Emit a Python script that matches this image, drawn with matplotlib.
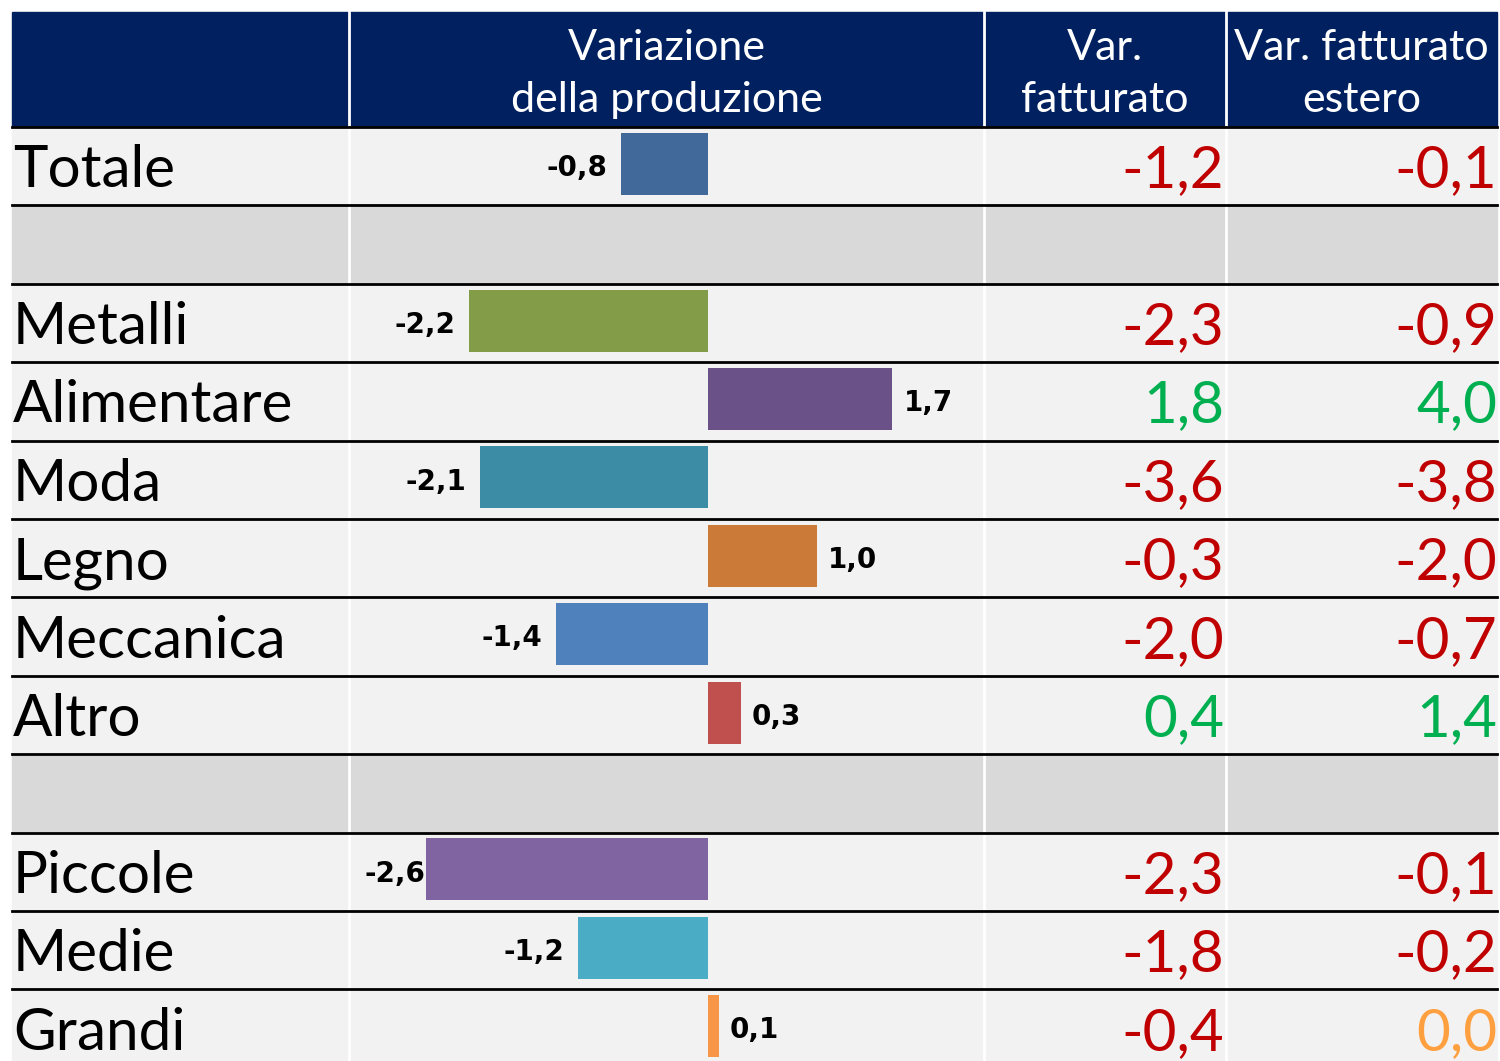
import numpy as np
import matplotlib.pyplot as plt
from matplotlib.patches import Rectangle
from matplotlib.font_manager import FontProperties

plt.rcParams['font.family'] = ['Lato', 'DejaVu Sans']

# dati
categorie = ['Totale', 'Metalli', 'Alimentare', 'Moda', 'Legno', 'Meccanica', 'Altro',
             'Piccole', 'Medie', 'Grandi']
produzione = [-0.8, -2.2, 1.7, -2.1, 1.0, -1.4, 0.3, -2.6, -1.2, 0.1]
fatturato = [-1.2, -2.3, 1.8, -3.6, -0.3, -2.0, 0.4, -2.3, -1.8, -0.4]
fatturato_estero = [-0.1, -0.9, 4.0, -3.8, -2.0, -0.7, 1.4, -0.1, -0.2, 0.0]
colori_barre = ['#416a9b', '#839c48', '#6a5187', '#3c8ca5', '#cb7a38', '#4f81bd',
                '#c0504d', '#8064a2', '#4bacc6', '#f79646']
gruppi = [1, 6, 3]  # Totale | settori | dimensioni, separati da righe vuote
intestazioni = ['Variazione\ndella produzione', 'Var.\nfatturato', 'Var. fatturato\nestero']

W, H = 1500, 1061
fig = plt.figure(figsize=(W / 100, H / 100), dpi=100)
ax = fig.add_axes([0, 0, 1, 1])
ax.set_xlim(0, W)
ax.set_ylim(H, 0)
ax.axis('off')

# geometria tabella (pixel)
x_col = [12, 349, 984, 1226, 1497]
y_head0, y_head1 = 12, 127
h_riga = 78.4

# indice di riga per ogni categoria (con righe vuote tra i gruppi)
righe = []
r = 0
for g in gruppi:
    righe += list(range(r, r + g))
    r += g + 1
n_righe = r - 1

def fmt(v):
    return ('%.1f' % v).replace('.', ',')

def colore_num(v):
    if v > 0:
        return '#00b050'
    if v < 0:
        return '#c00000'
    return '#ffa040'

# intestazione
ax.add_patch(Rectangle((x_col[0], y_head0), x_col[-1] - x_col[0], y_head1 - y_head0,
                       color='#00205f', zorder=1))
for i, t in enumerate(intestazioni):
    xc = (x_col[i + 1] + x_col[i + 2]) / 2
    l1, l2 = t.split('\n')
    ax.text(xc, 60, l1, color='white', fontsize=31, ha='center', va='baseline', zorder=5)
    ax.text(xc, 112, l2, color='white', fontsize=31, ha='center', va='baseline', zorder=5)

# sfondo righe
for k in range(n_righe):
    y0 = y_head1 + k * h_riga
    c = '#f2f2f2' if k in righe else '#d9d9d9'
    ax.add_patch(Rectangle((x_col[0], y0), x_col[-1] - x_col[0], h_riga, color=c, zorder=1))

# linee
for k in range(n_righe):
    ax.plot([x_col[0], x_col[-1]], [y_head1 + k * h_riga] * 2, color='black', lw=2.0, zorder=3)
for x in x_col[1:-1]:
    ax.plot([x, x], [y_head0, H], color='white', lw=2.0, zorder=2)

# testi delle righe
for cat, f, fe, k in zip(categorie, fatturato, fatturato_estero, righe):
    yb = y_head1 + (k + 0.5) * h_riga + 21
    ax.text(13, yb, cat, fontsize=42, color='black', ha='left', va='baseline', zorder=5)
    ax.text(1224, yb, fmt(f), fontsize=42, color=colore_num(f), ha='right', va='baseline', zorder=5)
    ax.text(1497, yb, fmt(fe), fontsize=42, color=colore_num(fe), ha='right', va='baseline', zorder=5)

# barre
scala = 108.5  # pixel per punto percentuale
zero_px = 708
y_bot = y_head1 + n_righe * h_riga
bx = fig.add_axes([x_col[1] / W, 1 - y_bot / H, (x_col[2] - x_col[1]) / W, (y_bot - y_head1) / H])
bx.set_xlim(-(zero_px - x_col[1]) / scala, (x_col[2] - zero_px) / scala)
bx.set_ylim(n_righe - 0.5, -0.5)
bx.axis('off')
bx.patch.set_alpha(0)
bx.barh(np.array(righe) - 0.03, produzione, height=0.79, color=colori_barre, zorder=3)

fp_lab = FontProperties(family='DejaVu Sans', weight='bold', size=20)
for v, k in zip(produzione, righe):
    if v < 0:
        off = -14 if v > -2.5 else -1
        ha = 'right'
    else:
        off = 11
        ha = 'left'
    bx.annotate(fmt(v), (v, k), xytext=(off * 0.72, -7), textcoords='offset points',
                ha=ha, va='baseline', fontproperties=fp_lab)

fig.savefig('out.png', dpi=100)
